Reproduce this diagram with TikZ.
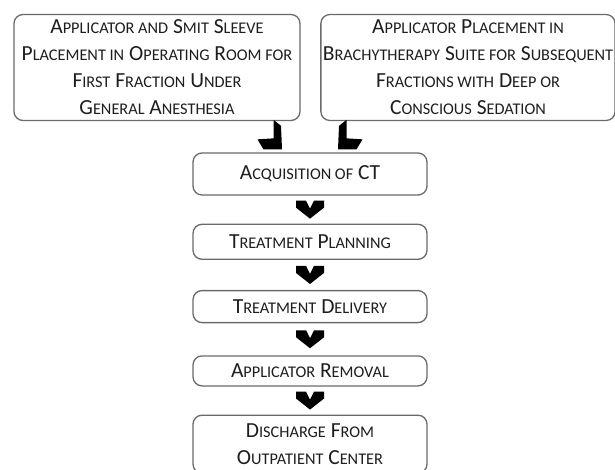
\documentclass[tikz,border=0pt]{standalone}
\usepackage{fontspec}
\setmainfont{Carlito}
\usetikzlibrary{positioning, calc}
\definecolor{bline}{HTML}{6A6A6A}
\definecolor{btext}{HTML}{1E1E1E}
\newcommand{\sm}[1]{{\fontsize{16.3}{27}\selectfont\MakeUppercase{#1}}}
\tikzset{
  stepbox/.style={rectangle, rounded corners=9pt, draw=bline, line width=1.3pt, fill=white,
                  text=btext, align=center, font=\fontsize{21.5}{27}\selectfont,
                  minimum width=234pt, inner sep=2pt},
  bigbox/.style={stepbox, minimum height=106pt},
  chev/.pic={\fill[black] (-14,-9) -- (-4,-9) -- (0,-1) -- (4,-9) -- (14,-9) -- (14,-2)
             -- (0,9) -- (-14,-2) -- cycle;},
  bend/.pic={\fill[black] (-36.5,-32.5) -- (-29,-26.5) -- (-28,-3) -- (-46.5,-3)
             -- (-52.5,-13) -- (-36.5,-14) -- cycle;}
}
\begin{document}
\begin{tikzpicture}[x=1pt, y=-1pt, node distance=29pt]
  \useasboundingbox (0,0) rectangle (615,470);
  \node[bigbox, minimum width=286pt] (gen) at (157,67.5)
    {A\sm{pplicator and} S\sm{mit} S\sm{leeve}\\P\sm{lacement in} O\sm{perating} R\sm{oom for}\\
     F\sm{irst} F\sm{raction} U\sm{nder}\\G\sm{eneral} A\sm{nesthesia}};
  \node[bigbox, minimum width=292pt] (sed) at (468,67.5)
    {A\sm{pplicator} P\sm{lacement in}\\B\sm{rachytherapy} S\sm{uite for} S\sm{ubsequent}\\
     F\sm{ractions with} D\sm{eep or}\\C\sm{onscious} S\sm{edation}};
  \node[stepbox, minimum height=42pt] (ct) at (310,174) {A\sm{cquisition of} CT};
  \node[stepbox, minimum height=35pt, below=28pt of ct] (plan) {T\sm{reatment} P\sm{lanning}};
  \node[stepbox, minimum height=32pt, below=30pt of plan] (deliv) {T\sm{reatment} D\sm{elivery}};
  \node[stepbox, minimum height=30pt, below=32pt of deliv] (remov) {A\sm{pplicator} R\sm{emoval}};
  \node[stepbox, minimum height=58pt, below=28pt of remov] (disch)
    {D\sm{ischarge} F\sm{rom}\\O\sm{utpatient} C\sm{enter}};
  \pic at (ct.north) {bend};
  \pic[xscale=-1] at (ct.north) {bend};
  \foreach \a/\b in {ct/plan, plan/deliv, deliv/remov, remov/disch}
    \pic at ($(\a.south)!0.5!(\b.north)$) {chev};
\end{tikzpicture}
\end{document}
